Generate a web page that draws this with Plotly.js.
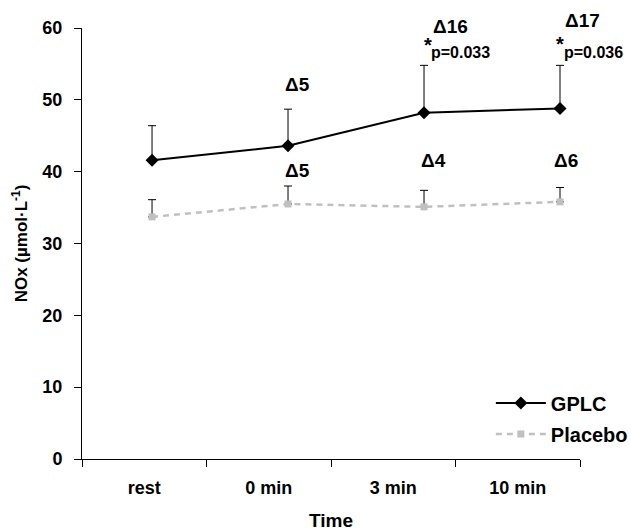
<!DOCTYPE html>
<html>
<head>
<meta charset="utf-8">
<script src="https://cdn.plot.ly/plotly-3.0.1.min.js"></script>
<style>html,body{margin:0;padding:0;background:#fff;}#chart{width:630px;height:531px;}</style>
</head>
<body>
<div id="chart"></div>
<script>
const categories = ['rest', '0 min', '3 min', '10 min'];
const gplc = [41.6, 43.6, 48.2, 48.8];
const gplcErr = [4.8, 5.1, 6.6, 6.0];
const placebo = [33.7, 35.5, 35.1, 35.8];
const placeboErr = [2.4, 2.5, 2.3, 2.0];
const gplcDeltas = ['', 'Δ5', 'Δ16', 'Δ17'];
const placeboDeltas = ['', 'Δ5', 'Δ4', 'Δ6'];
const pValues = ['', '', 'p=0.033', 'p=0.036'];

const FONT = 'Liberation Sans, Arial, sans-serif';
const zeros = categories.map(() => 0);

const traces = [
  {
    x: categories, y: gplc, name: 'GPLC', xaxis: 'x2', yaxis: 'y',
    type: 'scatter', mode: 'lines+markers', legend: 'legend',
    line: {color: '#000000', width: 2},
    marker: {symbol: 'diamond', size: 10, color: '#000000'},
    error_y: {type: 'data', array: gplcErr, arrayminus: zeros, symmetric: false,
              color: '#000000', thickness: 1, width: 4}
  },
  {
    x: categories, y: placebo, name: 'Placebo', xaxis: 'x2', yaxis: 'y',
    type: 'scatter', mode: 'lines+markers', legend: 'legend2',
    line: {color: '#c0c0c0', width: 2.5, dash: '6px,5px'},
    marker: {symbol: 'square', size: 7, color: '#c0c0c0'},
    error_y: {type: 'data', array: placeboErr, arrayminus: zeros, symmetric: false,
              color: '#000000', thickness: 1, width: 4}
  },
  // invisible trace on the labelled axis so that the category axis exists
  {x: categories, y: categories.map(() => null), xaxis: 'x', yaxis: 'y',
   type: 'scatter', mode: 'markers', showlegend: false, hoverinfo: 'skip'}
];

// labels are anchored to their data point and offset in pixels
const annotations = [];
const big = {family: FONT, size: 19, color: '#000'};
const small = {family: FONT, size: 16, color: '#000'};
const gplcDeltaOff = [null, {dy: 61, dx: 9}, {dy: 86, dx: 26}, {dy: 88, dx: 22}];
const placeboDeltaOff = [null, {dy: 33, dx: 9}, {dy: 46, dx: 9}, {dy: 41, dx: 6}];
const starOff = [null, null, {dy: 68, dx: 4}, {dy: 64, dx: 0}];
const pOff = [null, null, {dy: 60, dx: 36.5}, {dy: 56, dx: 33.5}];
categories.forEach((c, i) => {
  if (gplcDeltas[i]) annotations.push({xref: 'x2', yref: 'y', x: c, y: gplc[i],
    xshift: gplcDeltaOff[i].dx, yshift: gplcDeltaOff[i].dy,
    text: '<b>' + gplcDeltas[i] + '</b>', showarrow: false, font: big});
  if (placeboDeltas[i]) annotations.push({xref: 'x2', yref: 'y', x: c, y: placebo[i],
    xshift: placeboDeltaOff[i].dx, yshift: placeboDeltaOff[i].dy,
    text: '<b>' + placeboDeltas[i] + '</b>', showarrow: false, font: big});
  if (pValues[i]) {
    annotations.push({xref: 'x2', yref: 'y', x: c, y: gplc[i],
      xshift: starOff[i].dx, yshift: starOff[i].dy,
      text: '<b>*</b>', showarrow: false, font: {family: FONT, size: 20, color: '#000'}});
    annotations.push({xref: 'x2', yref: 'y', x: c, y: gplc[i],
      xshift: pOff[i].dx, yshift: pOff[i].dy,
      text: '<b>' + pValues[i] + '</b>', showarrow: false, font: small});
  }
});

const layout = {
  width: 630, height: 531,
  margin: {l: 82, r: 50, t: 28, b: 72, autoexpand: false},
  paper_bgcolor: '#ffffff', plot_bgcolor: '#ffffff',
  font: {family: FONT, size: 18, color: '#000'},
  xaxis: {
    type: 'category', categoryorder: 'array', categoryarray: categories,
    range: [-0.5, 3.5], showline: true, linecolor: '#000', linewidth: 1,
    ticks: 'outside', tickson: 'boundaries', ticklen: 7, tickcolor: '#000',
    showgrid: false, zeroline: false, fixedrange: true, automargin: false,
    tickfont: {family: FONT, size: 18, color: '#000', weight: 'bold'},
    ticklabelstandoff: 12,
    title: {text: '<b>Time</b>', font: {family: FONT, size: 19, color: '#000'}, standoff: 21}
  },
  xaxis2: {
    type: 'category', categoryorder: 'array', categoryarray: categories,
    overlaying: 'x', range: [-0.515, 3.147], visible: false, fixedrange: true
  },
  yaxis: {
    range: [0, 60], tickvals: [0, 10, 20, 30, 40, 50, 60],
    showline: true, linecolor: '#000', linewidth: 1,
    ticks: 'outside', ticklen: 7, tickcolor: '#000',
    showgrid: false, zeroline: false, fixedrange: true, automargin: false,
    tickfont: {family: FONT, size: 18, color: '#000', weight: 'bold'},
    ticklabelstandoff: 8,
    title: {text: '<b>NOx (µmol·L<sup>-1</sup>)</b>', font: {family: FONT, size: 17, color: '#000'}, standoff: 10}
  },
  legend: {x: 0.821, y: 0.130, xanchor: 'left', yanchor: 'middle', bgcolor: 'rgba(0,0,0,0)',
           font: {family: FONT, size: 20, color: '#000', weight: 'bold'}, itemwidth: 50},
  legend2: {x: 0.821, y: 0.058, xanchor: 'left', yanchor: 'middle', bgcolor: 'rgba(0,0,0,0)',
            font: {family: FONT, size: 20, color: '#000', weight: 'bold'}, itemwidth: 50},
  annotations: annotations,
  showlegend: true
};

Plotly.newPlot('chart', traces, layout, {displayModeBar: false, staticPlot: true});
</script>
</body>
</html>
